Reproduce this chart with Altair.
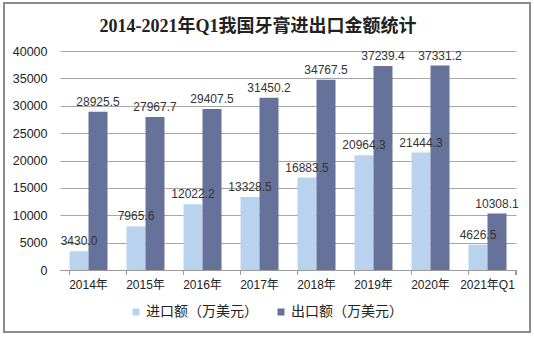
import altair as alt
import pandas as pd

years = ["2014年", "2015年", "2016年", "2017年", "2018年", "2019年", "2020年", "2021年Q1"]
imports = [3430.0, 7965.6, 12022.2, 13328.5, 16883.5, 20964.3, 21444.3, 4626.5]
exports = [28925.5, 27967.7, 29407.5, 31450.2, 34767.5, 37239.4, 37331.2, 10308.1]
series = ["进口额（万美元）", "出口额（万美元）"]
colors = ["#B9D3EE", "#66729A"]

rows = []
for yr, a, b in zip(years, imports, exports):
    rows.append({"year": yr, "series": series[0], "value": a})
    rows.append({"year": yr, "series": series[1], "value": b})
df = pd.DataFrame(rows)
cats = pd.DataFrame({"year": years})

SANS = "'Liberation Sans', 'Noto Sans CJK SC', sans-serif"

x = alt.X("year:N", sort=years, title=None,
          scale=alt.Scale(paddingInner=1/3, paddingOuter=1/6),
          axis=alt.Axis(labelAngle=0, ticks=False, labelPadding=9, labelFontSize=12,
                        labelFont=SANS, labelColor="#222222", domainColor="#9a9a9a",
                        grid=False))
xo = alt.XOffset("series:N", sort=series, scale=alt.Scale(paddingInner=0, paddingOuter=0))
y = alt.Y("value:Q", title=None,
          scale=alt.Scale(domain=[0, 40000], nice=False),
          axis=alt.Axis(values=list(range(0, 40001, 5000)), ticks=False, domain=False,
                        labelPadding=13, labelFontSize=12.5, labelFont=SANS, format="d",
                        labelColor="#222222", gridColor="#a6a6a6"))

bars = alt.Chart(df).mark_bar().encode(
    x=x, xOffset=xo, y=y,
    color=alt.Color("series:N", sort=series,
                    scale=alt.Scale(domain=series, range=colors),
                    legend=alt.Legend(title=None, orient="none", direction="horizontal",
                                      legendX=69, legendY=254, padding=0,
                                      symbolType="square",
                                      symbolSize=49, labelFontSize=14, labelFont=SANS,
                                      labelColor="#222222", columnPadding=16,
                                      labelOffset=3, symbolStrokeWidth=0)),
)

labels = alt.Chart(df).mark_text(baseline="alphabetic", dy=-6, fontSize=12,
                                 font=SANS, color="#333333").encode(
    x=x, xOffset=xo, y=y,
    text=alt.Text("value:Q", format=".1f"),
)

ticks = alt.Chart(cats).mark_rule(color="#9a9a9a").encode(
    x=alt.X("year:N", sort=years, bandPosition=0),
    y=alt.value(219), y2=alt.value(224),
)
last_tick = alt.Chart(cats).mark_rule(color="#9a9a9a").encode(
    x=alt.value(456), y=alt.value(219), y2=alt.value(224),
)

frame = alt.Chart(cats).mark_rect(fill=None, stroke="#8c8c8c", strokeWidth=1.5).encode(
    x=alt.value(-56), x2=alt.value(470), y=alt.value(-48), y2=alt.value(281),
)

chart = alt.layer(bars, labels, ticks, last_tick, frame).properties(
    width=456, height=219,
    autosize=alt.AutoSizeParams(type="none"),
    padding={"left": 60, "top": 51, "right": 18, "bottom": 67},
    title=alt.Title("2014-2021年Q1我国牙膏进出口金额统计",
                    font="'Liberation Serif', 'Noto Sans CJK SC', serif",
                    fontSize=18, fontWeight="bold", color="#222222",
                    anchor="middle", dx=-30, offset=-34),
).configure_view(stroke=None)

chart.save("out.html", embed_options={"renderer": "svg", "actions": False})
